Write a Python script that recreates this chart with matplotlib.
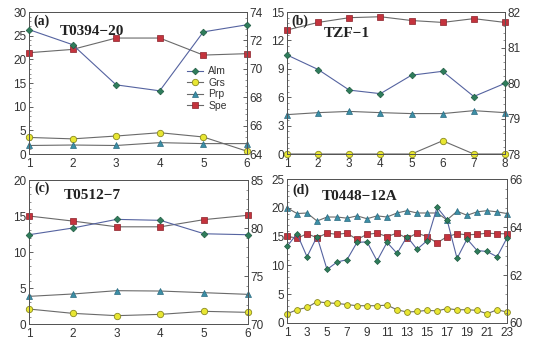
import matplotlib
matplotlib.use("Agg")
import matplotlib.pyplot as plt
from matplotlib.ticker import MultipleLocator, AutoMinorLocator

plt.rcParams['font.family'] = ['Liberation Sans', 'DejaVu Sans']

# ---- data (Alm on right axis, others on left axis) ----
a_x = [1, 2, 3, 4, 5, 6]
a_alm = [72.76, 71.7, 68.87, 68.45, 72.6, 73.1]
a_grs = [3.5, 3.2, 3.8, 4.5, 3.6, 0.6]
a_prp = [1.8, 1.9, 1.8, 2.4, 2.2, 2.2]
a_spe = [21.4, 22.1, 24.5, 24.5, 20.9, 21.2]

b_x = [1, 2, 3, 4, 5, 6, 7, 8]
b_alm = [80.79, 80.38, 79.80, 79.70, 80.22, 80.33, 79.62, 79.99]
b_grs = [0, 0, 0, 0, 0, 1.4, 0, 0]
b_prp = [4.16, 4.37, 4.5, 4.37, 4.27, 4.27, 4.58, 4.37]
b_spe = [13.1, 13.9, 14.4, 14.5, 14.1, 13.9, 14.3, 13.9]

c_x = [1, 2, 3, 4, 5, 6]
c_alm = [79.3, 80.0, 80.9, 80.8, 79.4, 79.3]
c_grs = [2.08, 1.48, 1.16, 1.34, 1.76, 1.62]
c_prp = [3.84, 4.17, 4.63, 4.58, 4.35, 4.12]
c_spe = [15.0, 14.3, 13.5, 13.5, 14.5, 15.1]

d_x = list(range(1, 24))
d_alm = [63.19, 63.72, 62.76, 63.6, 62.23, 62.54, 62.64, 63.36, 63.38, 62.59, 63.36, 62.9,
         63.6, 63.07, 63.43, 64.82, 64.3, 62.69, 63.5, 63.02, 62.98, 62.76, 63.55]
d_grs = [1.6, 2.3, 2.7, 3.7, 3.5, 3.4, 3.2, 3.0, 3.0, 3.0, 3.1, 2.3, 1.9, 2.0, 2.2, 2.1,
         2.5, 2.3, 2.3, 2.2, 1.6, 2.3, 1.9]
d_prp = [20.0, 19.0, 19.1, 17.7, 18.4, 18.4, 18.2, 18.6, 18.1, 18.6, 18.4, 19.1, 19.5,
         19.1, 19.1, 19.1, 17.9, 19.4, 18.7, 19.3, 19.5, 19.3, 19.0]
d_spe = [15.1, 14.7, 15.5, 14.8, 15.6, 15.4, 15.6, 14.5, 15.4, 15.6, 15.0, 15.6, 14.7,
         15.6, 15.0, 13.9, 15.0, 15.5, 15.3, 15.4, 15.6, 15.5, 15.5]

panels = [
    dict(pos=[0.0539, 0.5587, 0.405, 0.4069], x=a_x, alm=a_alm, grs=a_grs, prp=a_prp, spe=a_spe,
         yl=(0, 30), ylstep=5, yr=(64, 74), yrstep=2, xt=a_x, tag="(a)", name="T0394\u221220",
         tagxy=(0.02, 0.935), namexy=(0.14, 0.865), legend=True),
    dict(pos=[0.5335, 0.5587, 0.405, 0.4069], x=b_x, alm=b_alm, grs=b_grs, prp=b_prp, spe=b_spe,
         yl=(0, 15), ylstep=3, yr=(78, 82), yrstep=1, xt=b_x, tag="(b)", name="TZF\u22121",
         tagxy=(0.02, 0.935), namexy=(0.17, 0.85), legend=False),
    dict(pos=[0.0539, 0.0716, 0.407, 0.4126], x=c_x, alm=c_alm, grs=c_grs, prp=c_prp, spe=c_spe,
         yl=(0, 20), ylstep=5, yr=(70, 85), yrstep=5, xt=c_x, tag="(c)", name="T0512\u22127",
         tagxy=(0.025, 0.94), namexy=(0.16, 0.895), legend=False),
    dict(pos=[0.5335, 0.0745, 0.409, 0.4126], x=d_x, alm=d_alm, grs=d_grs, prp=d_prp, spe=d_spe,
         yl=(0, 25), ylstep=5, yr=(60, 66), yrstep=2, xt=list(range(1, 24, 2)), tag="(d)",
         name="T0448\u221212A", tagxy=(0.025, 0.925), namexy=(0.16, 0.88), legend=False),
]

line_gray = '#6a6a6a'
alm_line = '#5563a0'
alm_c = '#2f7d5c'
grs_c = '#e8e632'
prp_c = '#3c8fa6'
spe_c = '#c4333d'

fig = plt.figure(figsize=(5.38, 3.49), dpi=100)

for p in panels:
    ax = fig.add_axes(p['pos'])
    ax2 = ax.twinx()
    ms = 4 if len(p['x']) < 10 else 3.6
    h_alm, = ax2.plot(p['x'], p['alm'], color=alm_line, lw=0.8, marker='D', ms=ms * 0.85,
                      mfc=alm_c, mec='#1f5a40', mew=0.5, label='Alm', clip_on=False, zorder=3)
    h_grs, = ax.plot(p['x'], p['grs'], color=line_gray, lw=0.8, marker='o', ms=ms + 0.6,
                     mfc=grs_c, mec='#8a8a20', mew=0.6, label='Grs', clip_on=False, zorder=3)
    h_prp, = ax.plot(p['x'], p['prp'], color=line_gray, lw=0.8, marker='^', ms=ms + 0.6,
                     mfc=prp_c, mec='#2a6a80', mew=0.5, label='Prp', clip_on=False, zorder=3)
    h_spe, = ax.plot(p['x'], p['spe'], color=line_gray, lw=0.8, marker='s', ms=ms + 0.8,
                     mfc=spe_c, mec='#8a2028', mew=0.5, label='Spe', clip_on=False, zorder=3)

    ax.set_xlim(p['x'][0], p['x'][-1])
    ax.set_ylim(*p['yl'])
    ax2.set_ylim(*p['yr'])
    ax.set_xticks(p['xt'])
    ax.yaxis.set_major_locator(MultipleLocator(p['ylstep']))
    ax2.yaxis.set_major_locator(MultipleLocator(p['yrstep']))
    ax.yaxis.set_minor_locator(AutoMinorLocator(5))
    ax2.yaxis.set_minor_locator(AutoMinorLocator(5))
    for a in (ax, ax2):
        a.tick_params(axis='both', which='major', direction='in', length=3, width=0.6,
                      labelsize=8.5, colors='#444444', labelcolor='#333333', pad=2)
        a.tick_params(axis='both', which='minor', direction='in', length=1.5, width=0.5,
                      colors='#666666')
        for s in a.spines.values():
            s.set_color('#555555')
            s.set_linewidth(0.7)
    ax.tick_params(axis='x', which='major', length=0, pad=3)

    ax.text(p['tagxy'][0], p['tagxy'][1], p['tag'], transform=ax.transAxes, fontsize=10,
            fontweight='bold', family=['Liberation Serif', 'DejaVu Serif'], ha='left',
            va='center', color='#222222', zorder=5)
    ax.text(p['namexy'][0], p['namexy'][1], p['name'], transform=ax.transAxes, fontsize=11,
            fontweight='bold', family=['Liberation Serif', 'DejaVu Serif'], ha='left',
            va='center', color='#222222', zorder=5)

    if p['legend']:
        ax2.legend(handles=[h_alm, h_grs, h_prp, h_spe], loc='center left',
                   bbox_to_anchor=(0.68, 0.46), frameon=False, fontsize=7.5,
                   handlelength=1.6, handletextpad=0.5, labelspacing=0.15,
                   labelcolor='#333333')

fig.savefig('out.png', dpi=100)
